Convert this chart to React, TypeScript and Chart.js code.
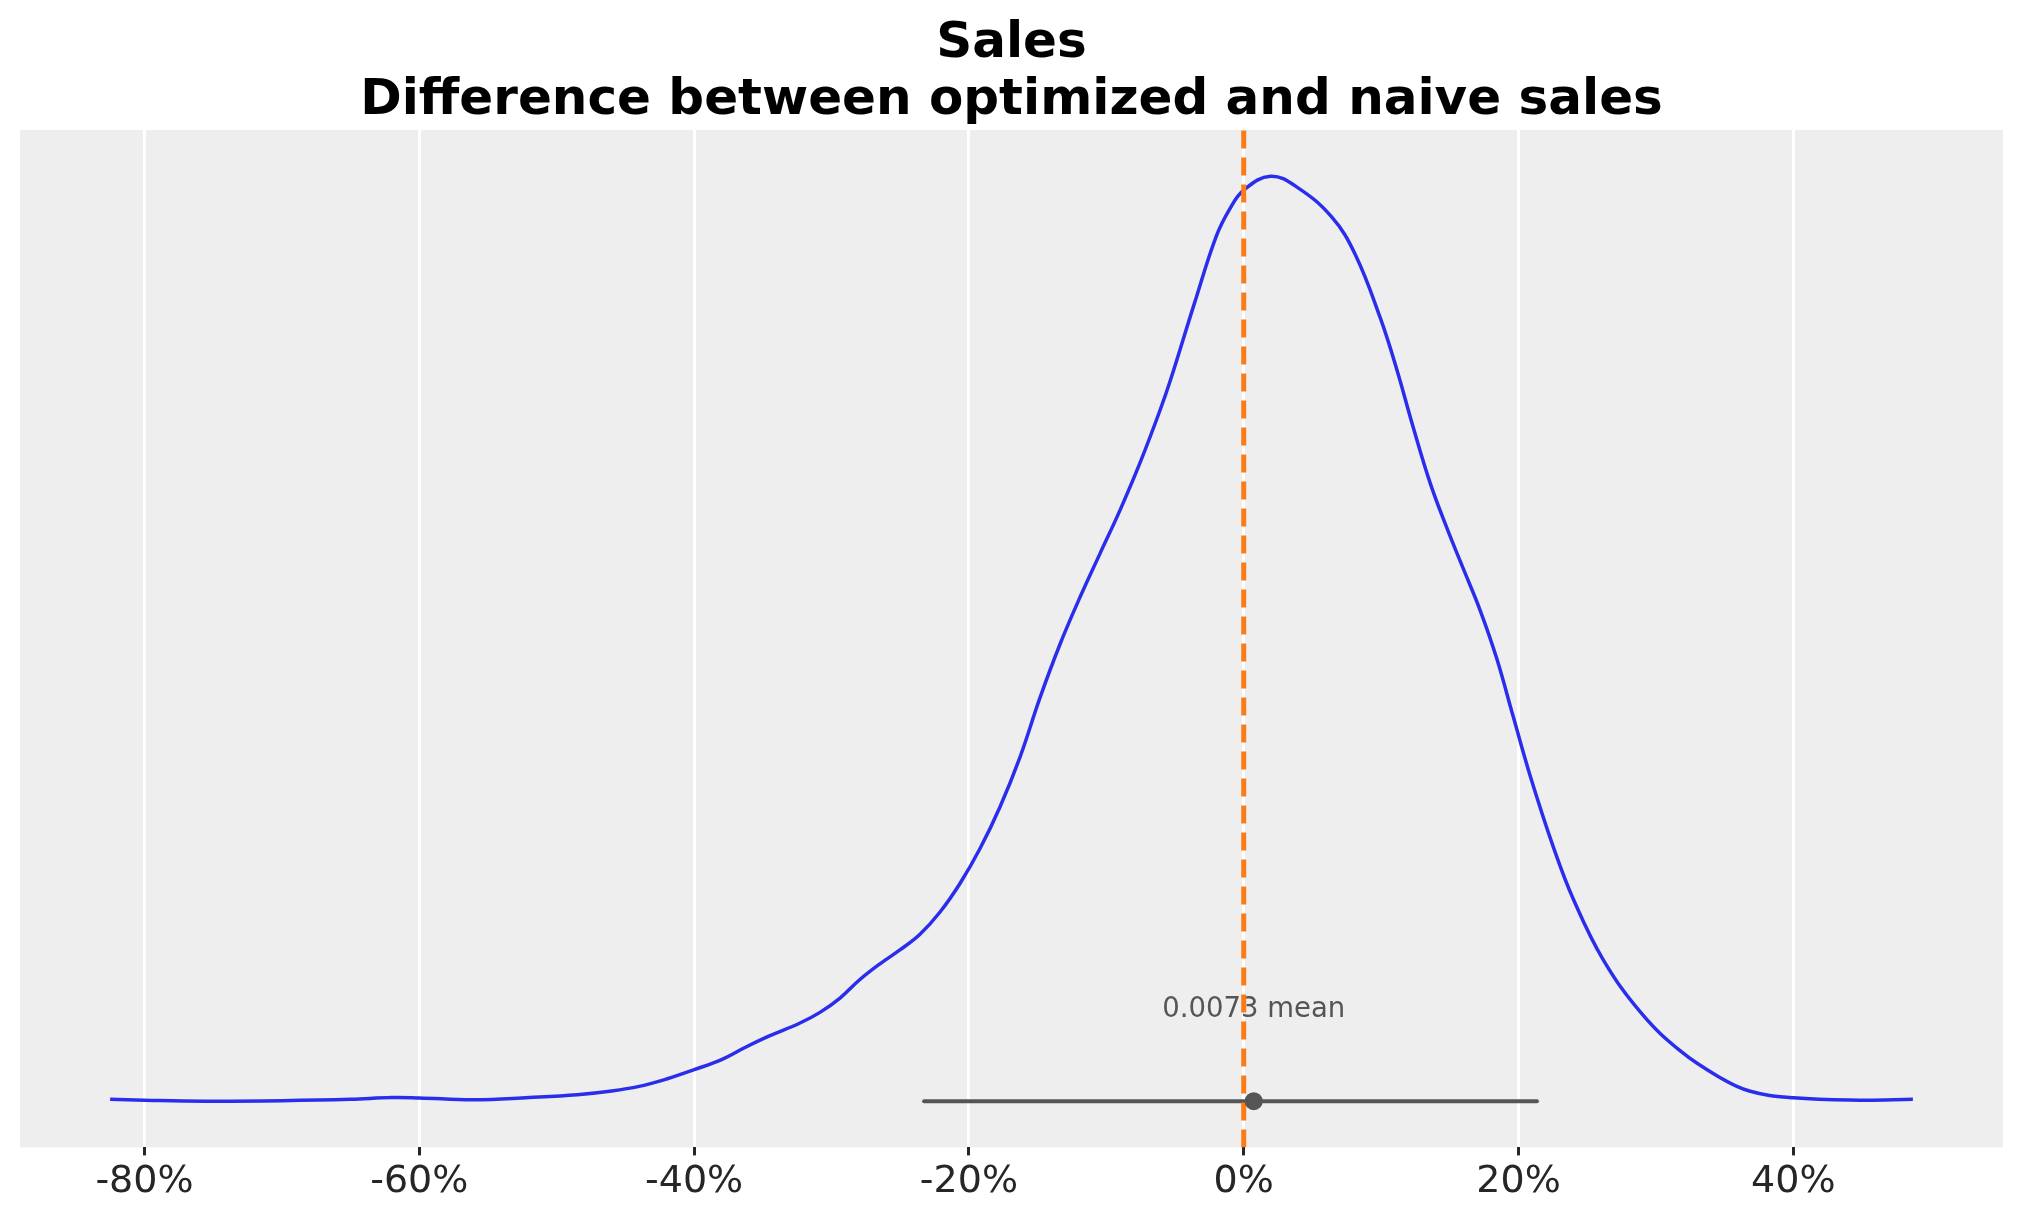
import React, { useEffect, useRef } from 'react';
import Chart from 'chart.js/auto';

// KDE of the difference (fraction, shown as percent on the axis)
const kdeX = [
  -0.825, -0.8, -0.756, -0.7, -0.65, -0.62, -0.6, -0.56, -0.52, -0.485,
  -0.46, -0.44, -0.42, -0.4, -0.38, -0.363, -0.346, -0.3229, -0.3084, -0.2938,
  -0.2793, -0.2647, -0.2502, -0.2356, -0.221, -0.2065, -0.1919, -0.1774, -0.1628, -0.1483,
  -0.1337, -0.1191, -0.1046, -0.09, -0.0755, -0.0609, -0.053, -0.036, -0.02, -0.01,
  0.0, 0.0195, 0.039, 0.064, 0.081, 0.0992, 0.1113, 0.1234, 0.1356, 0.1477,
  0.1598, 0.172, 0.1841, 0.1962, 0.2084, 0.2253, 0.24, 0.262, 0.29, 0.318,
  0.345, 0.368, 0.4, 0.448, 0.487,
];
const kdeY = [
  0.002, 0.001, 0.0, 0.0005, 0.002, 0.004, 0.0035, 0.0015, 0.004, 0.007,
  0.011, 0.016, 0.024, 0.034, 0.045, 0.058, 0.07, 0.0845, 0.096, 0.1115,
  0.1315, 0.1485, 0.1635, 0.1805, 0.2045, 0.2353, 0.2731, 0.318, 0.372, 0.436,
  0.494, 0.545, 0.592, 0.639, 0.69, 0.747, 0.781, 0.862, 0.935, 0.965,
  0.985, 1.0, 0.988, 0.956, 0.916, 0.8476, 0.7917, 0.7284, 0.6688, 0.6203,
  0.5757, 0.531, 0.4788, 0.4155, 0.3522, 0.275, 0.218, 0.152, 0.094, 0.054,
  0.027, 0.011, 0.0036, 0.001, 0.002,
];
const xTicks = [-0.8, -0.6, -0.4, -0.2, 0, 0.2, 0.4];
const hdiBounds = [-0.2326, 0.2134];
const meanValue = 0.0073;
const refValue = 0;
const meanLabelY = 0.091;
const titleLines = ['Sales', 'Difference between optimized and naive sales'];

const X_MIN = -0.8906;
const X_MAX = 0.5526;
const Y_MIN = -0.05;
const Y_MAX = 1.05;

const FONT = "'DejaVu Sans', sans-serif";

const panelBackground = {
  id: 'panelBackground',
  beforeDraw(chart: any) {
    const { ctx, chartArea } = chart;
    ctx.save();
    ctx.fillStyle = '#eeeeee';
    ctx.fillRect(chartArea.left, chartArea.top, chartArea.right - chartArea.left, chartArea.bottom - chartArea.top);
    ctx.restore();
  },
};

const meanLabel = {
  id: 'meanLabel',
  beforeDatasetsDraw(chart: any) {
    const { ctx, scales } = chart;
    ctx.save();
    ctx.font = `27.5px ${FONT}`;
    ctx.fillStyle = '#555555';
    ctx.textAlign = 'center';
    ctx.textBaseline = 'alphabetic';
    ctx.fillText(`${meanValue} mean`, scales.x.getPixelForValue(meanValue), scales.y.getPixelForValue(meanLabelY));
    ctx.restore();
  },
};

export default function App() {
  const canvasRef = useRef<HTMLCanvasElement>(null);
  const chartRef = useRef<Chart | null>(null);

  useEffect(() => {
    if (!canvasRef.current) return;
    if (chartRef.current) chartRef.current.destroy();

    chartRef.current = new Chart(canvasRef.current, {
      type: 'line',
      data: {
        datasets: [
          {
            label: 'mean',
            data: [{ x: meanValue, y: 0 }],
            showLine: false,
            pointRadius: 9,
            pointBorderWidth: 0,
            pointBackgroundColor: '#555555',
            order: 1,
          },
          {
            label: 'ref',
            data: [{ x: refValue, y: Y_MIN }, { x: refValue, y: Y_MAX }],
            borderColor: '#fa7c17',
            borderWidth: 5,
            borderDash: [18, 9],
            pointRadius: 0,
            order: 2,
          },
          {
            label: 'hdi',
            data: hdiBounds.map((v) => ({ x: v, y: 0 })),
            borderColor: '#555555',
            borderWidth: 4,
            borderCapStyle: 'round',
            pointRadius: 0,
            order: 3,
          },
          {
            label: 'kde',
            data: kdeX.map((x, i) => ({ x, y: kdeY[i] })),
            borderColor: '#2a2eec',
            borderWidth: 3.5,
            pointRadius: 0,
            tension: 0.4,
            order: 4,
          },
        ],
      },
      options: {
        animation: false,
        responsive: true,
        maintainAspectRatio: false,
        devicePixelRatio: 1,
        layout: { padding: { left: 20, right: 20, top: 0, bottom: 14 } },
        plugins: {
          legend: { display: false },
          tooltip: { enabled: false },
          title: {
            display: true,
            text: titleLines,
            color: '#000000',
            font: { family: FONT, size: 50, weight: 'bold', lineHeight: 1.14 },
            padding: { top: 16, bottom: 0 },
          },
        },
        scales: {
          x: {
            type: 'linear',
            min: X_MIN,
            max: X_MAX,
            afterBuildTicks: (scale: any) => {
              scale.ticks = xTicks.map((value) => ({ value }));
            },
            grid: {
              color: '#ffffff',
              lineWidth: 3,
              tickColor: '#262626',
              tickWidth: 3,
              tickLength: 8,
            },
            border: { display: false },
            ticks: {
              color: '#262626',
              padding: 4,
              maxRotation: 0,
              font: { family: FONT, size: 38 },
              callback: (v: any) => `${Math.round(Number(v) * 100)}%`,
            },
          },
          y: {
            display: false,
            min: Y_MIN,
            max: Y_MAX,
          },
        },
      } as any,
      plugins: [panelBackground, meanLabel],
    });

    return () => {
      if (chartRef.current) {
        chartRef.current.destroy();
        chartRef.current = null;
      }
    };
  }, []);

  return (
    <div style={{ position: 'fixed', left: 0, top: 0, width: 2023, height: 1223, background: '#ffffff' }}>
      <canvas ref={canvasRef}></canvas>
    </div>
  );
}
